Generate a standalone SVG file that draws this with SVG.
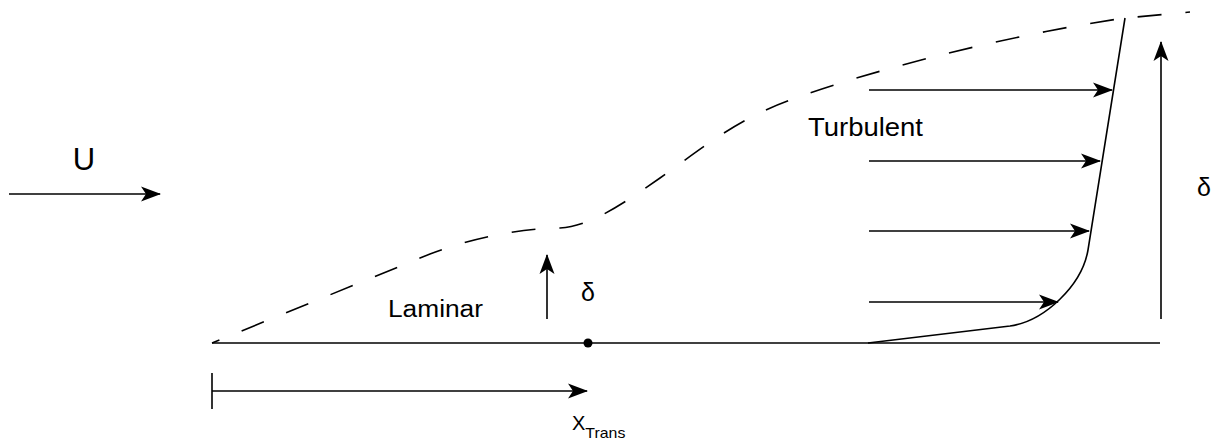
<svg xmlns="http://www.w3.org/2000/svg" width="1216" height="443" viewBox="0 0 1216 443">
<style>
.ln{fill:none;stroke:#000;stroke-width:1.6}
.dash{fill:none;stroke:#000;stroke-width:1.6;stroke-dasharray:24 24;stroke-dashoffset:16}
.t{font-family:"Liberation Sans",Arial,sans-serif;fill:#000}
</style>
<defs>
<marker id="ah" markerUnits="userSpaceOnUse" markerWidth="22" markerHeight="17" refX="19" refY="8" orient="auto" overflow="visible">
<path d="M0,0.5 L20,8 L0,15.5 L5,8 z" fill="#000"/>
</marker>
</defs>
<rect width="1216" height="443" fill="#fff"/>
<g id="flow-label"><text class="t" x="84" y="170" font-size="31" text-anchor="middle">U</text></g>
<g id="plate">
<line class="ln" x1="212" y1="343" x2="1160" y2="343"/>
<circle cx="588" cy="343" r="4.5" fill="#000"/>
</g>
<g id="boundary-layer">
<path class="dash" d="M212,343 L430,254 C480,235 530,228 560,228 C590,226 620,206 660,178 C700,150 735,120 790,100 C860,74 1000,36 1125,18 L1190,12"/>
</g>
<g id="velocity-profile">
<path class="ln" d="M868,343 L1010,326 C1045,321 1082,285 1088,250 L1125,18"/>
</g>
<g id="label-laminar"><text class="t" x="388" y="317" font-size="23" textLength="95" lengthAdjust="spacingAndGlyphs">Laminar</text></g>
<g id="label-turbulent"><text class="t" x="808" y="136" font-size="25" textLength="115" lengthAdjust="spacingAndGlyphs">Turbulent</text></g>
<g id="label-delta-laminar"><text class="t" x="581" y="301" font-size="25">δ</text></g>
<g id="label-delta-turb"><text class="t" x="1197" y="196" font-size="25">δ</text></g>
<g id="label-xtrans"><text class="t" x="572" y="430" font-size="20">X<tspan font-size="15" dy="8" textLength="40" lengthAdjust="spacingAndGlyphs">Trans</tspan></text></g>
<g id="tick"><line class="ln" x1="212" y1="373" x2="212" y2="409"/></g>
<g id="connectors">
<line class="ln" x1="9" y1="194" x2="160" y2="194" marker-end="url(#ah)"/>
<line class="ln" x1="547" y1="319" x2="547" y2="255" marker-end="url(#ah)"/>
<line class="ln" x1="1161" y1="319" x2="1161" y2="42" marker-end="url(#ah)"/>
<line class="ln" x1="212" y1="391" x2="587" y2="391" marker-end="url(#ah)"/>
<line class="ln" x1="869" y1="90" x2="1112" y2="90" marker-end="url(#ah)"/>
<line class="ln" x1="869" y1="161" x2="1100" y2="161" marker-end="url(#ah)"/>
<line class="ln" x1="869" y1="231" x2="1089" y2="231" marker-end="url(#ah)"/>
<line class="ln" x1="869" y1="302" x2="1058" y2="302" marker-end="url(#ah)"/>
</g>
</svg>
